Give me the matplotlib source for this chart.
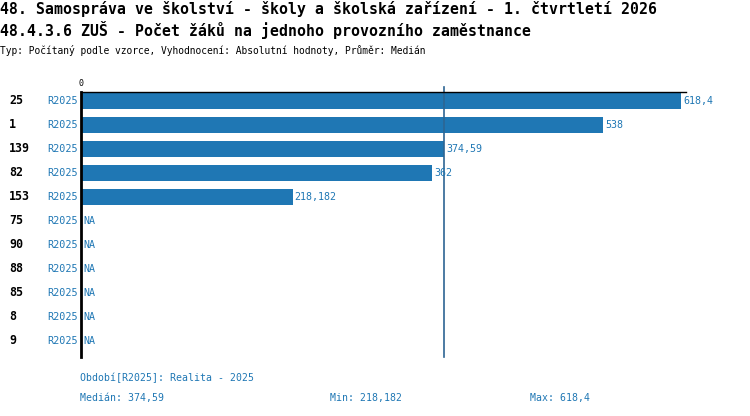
import matplotlib
matplotlib.use('Agg')
import matplotlib.pyplot as plt

# data
rowIds = ['25', '1', '139', '82', '153', '75', '90', '88', '85', '8', '9']
period = 'R2025'
values = [618.4, 538, 374.59, 362, 218.182, None, None, None, None, None, None]
valueLabels = ['618,4', '538', '374,59', '362', '218,182', 'NA', 'NA', 'NA', 'NA', 'NA', 'NA']
median = 374.59
title1 = '48. Samospráva ve školství - školy a školská zařízení - 1. čtvrtletí 2026'
title2 = '48.4.3.6 ZUŠ - Počet žáků na jednoho provozního zaměstnance'
subtitle = 'Typ: Počítaný podle vzorce, Vyhodnocení: Absolutní hodnoty, Průměr: Medián'
footer1 = 'Období[R2025]: Realita - 2025'
footer2 = ['Medián: 374,59', 'Min: 218,182', 'Max: 618,4']

blue = '#1f77b4'
W, H = 750, 416
plt.rcParams['font.family'] = ['DejaVu Sans Mono']

fig = plt.figure(figsize=(W / 100, H / 100), dpi=100)
ax = fig.add_axes([81 / W, 1 - 357 / H, (686 - 81) / W, (357 - 92) / H])

ys = list(range(len(rowIds)))
for y, v in zip(ys, values):
    if v is not None:
        ax.barh(y, v, height=0.66, color=blue)

ax.set_xlim(0, 623.6)
ax.set_ylim(len(rowIds) - 1 + 0.667, -0.375)
ax.axvline(median, color='#2d6593', lw=1.2, ymin=0, ymax=1.02, clip_on=False)

for s in ['right', 'bottom']:
    ax.spines[s].set_visible(False)
ax.spines['left'].set_linewidth(2)
ax.spines['left'].set_color('black')
ax.spines['top'].set_linewidth(1)
ax.spines['top'].set_color('black')
ax.set_xticks([])
ax.set_yticks([])
ax.text(0, -0.75, '0', ha='center', va='center', fontsize=6)

for y, v, lab in zip(ys, values, valueLabels):
    x = v if v is not None else 0
    ax.text(x + 2, y, lab, ha='left', va='center', fontsize=7.2, color=blue)
    ax.text(-3, y, period, ha='right', va='center', fontsize=7.3, color=blue)
    ax.text(-72 / 0.97, y, rowIds[y], ha='left', va='center', fontsize=8.4,
            fontweight='bold', color='black')

fig.text(0, 1 - 9 / H, title1, ha='left', va='center', fontsize=10.7, fontweight='bold')
fig.text(0, 1 - 30 / H, title2, ha='left', va='center', fontsize=10.7, fontweight='bold')
fig.text(0, 1 - 50 / H, subtitle, ha='left', va='center', fontsize=6.9)

fig.text(80 / W, 1 - 378 / H, footer1, ha='left', va='center', fontsize=7.1, color=blue)
for xp, t in zip([80, 330, 530], footer2):
    fig.text(xp / W, 1 - 398 / H, t, ha='left', va='center', fontsize=7.1, color=blue)

fig.savefig('out.png', dpi=100)
